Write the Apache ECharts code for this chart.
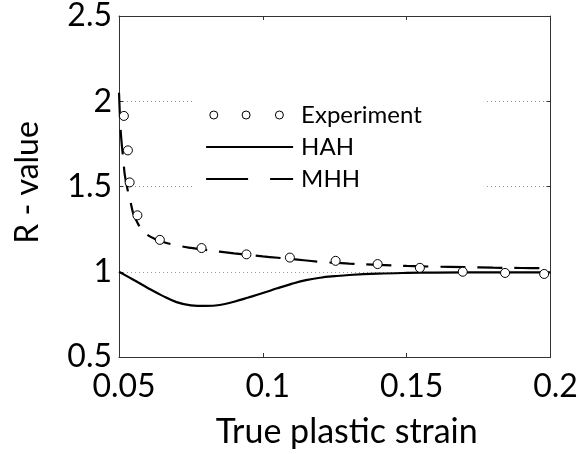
<!DOCTYPE html>
<html><head><meta charset="utf-8">
<script src="https://cdn.jsdelivr.net/npm/echarts@6/dist/echarts.min.js"></script>
<style>html,body{margin:0;padding:0;background:#fff}#c{width:582px;height:454px}</style>
</head><body><div id="c"></div>
<script>
// Experiment (markers)
const expStrain = [0.0517, 0.0531, 0.0537, 0.0564, 0.0642, 0.0787, 0.0943, 0.1094, 0.1253, 0.1399, 0.1546, 0.1695, 0.1842, 0.1978];
const expR      = [1.914, 1.712, 1.524, 1.331, 1.187, 1.139, 1.102, 1.083, 1.064, 1.045, 1.023, 1.000, 0.993, 0.987];
// HAH (solid)
const hahStrain = [0.05, 0.055, 0.06, 0.065, 0.07, 0.075, 0.08, 0.085, 0.09, 0.095, 0.1, 0.105, 0.11, 0.115, 0.12, 0.125, 0.13, 0.14, 0.15, 0.16, 0.18, 0.2];
const hahR      = [1.0, 0.953, 0.905, 0.86, 0.822, 0.803, 0.800, 0.805, 0.824, 0.849, 0.875, 0.903, 0.929, 0.951, 0.965, 0.974, 0.981, 0.989, 0.993, 0.995, 0.996, 0.996];
// MHH (dashed)
const mhhStrain = [0.05, 0.0505, 0.051, 0.0515, 0.052, 0.053, 0.054, 0.055, 0.0565, 0.058, 0.06, 0.0625, 0.065, 0.07, 0.075, 0.08, 0.09, 0.1, 0.11, 0.12, 0.13, 0.14, 0.15, 0.16, 0.17, 0.18, 0.19, 0.2];
const mhhR      = [2.05, 1.85, 1.74, 1.66, 1.57, 1.48, 1.41, 1.34, 1.285, 1.245, 1.215, 1.192, 1.176, 1.155, 1.14, 1.128, 1.108, 1.09, 1.075, 1.058, 1.048, 1.04, 1.034, 1.03, 1.027, 1.024, 1.022, 1.02];
// Axes
const xMin = 0.05, xMax = 0.2, xStep = 0.05;
const yMin = 0.5, yMax = 2.5, yStep = 0.5;
const seriesNames = ['Experiment', 'HAH', 'MHH'];
const xTitle = 'True plastic strain';
const yTitle = 'R - value';

const zip = (a, b) => a.map((v, i) => [v, b[i]]);
const FONT = 'Lato';
const chart = echarts.init(document.getElementById('c'), null, {renderer: 'canvas'});

const circlesIcon = 'path://M0 0M87 9' +
  'M3.7 4.5a4 4 0 1 0 8 0a4 4 0 1 0 -8 0Z' +
  'M36 4.5a4 4 0 1 0 8 0a4 4 0 1 0 -8 0Z' +
  'M69.3 4.5a4 4 0 1 0 8 0a4 4 0 1 0 -8 0Z';

const axisCommon = {
  axisLine: {show: true, lineStyle: {color: '#333', width: 1}},
  axisTick: {show: true, inside: true, length: 4, lineStyle: {color: '#333'}},
};
const hiddenSym = {color: 'rgba(0,0,0,0)', borderColor: 'rgba(0,0,0,0)', borderWidth: 0, opacity: 0};

chart.setOption({
  animation: false,
  backgroundColor: '#fff',
  grid: {left: 119, right: 31.5, top: 15, bottom: 92.3, containLabel: false},
  legend: {
    orient: 'vertical', left: 192, top: 97,
    backgroundColor: '#fff',
    padding: [6, 62, 8, 13],
    itemWidth: 87, itemHeight: 9, itemGap: 8,
    textStyle: {fontFamily: FONT, fontSize: 24, color: '#000', padding: [0, 0, 0, 3]},
    data: [
      {name: seriesNames[0], icon: circlesIcon, itemStyle: {color: '#fff', borderColor: '#000', borderWidth: 1}},
      {name: seriesNames[1], itemStyle: hiddenSym, lineStyle: {color: '#000', width: 2.2}},
      {name: seriesNames[2], itemStyle: hiddenSym, lineStyle: {type: [42, 22], width: 2.2, color: '#000'}}
    ]
  },
  xAxis: [
    Object.assign({
      type: 'value', min: xMin, max: xMax, interval: xStep, position: 'bottom',
      name: xTitle, nameLocation: 'middle', nameGap: 58,
      nameTextStyle: {fontFamily: FONT, fontSize: 34, color: '#000', padding: [0, 0, 0, 24]},
      axisLabel: {fontFamily: FONT, fontSize: 32, color: '#000', margin: 14, padding: [0, 0, 0, 10]},
      splitLine: {show: false}
    }, axisCommon),
    Object.assign({
      type: 'value', min: xMin, max: xMax, interval: xStep, position: 'top',
      axisLabel: {show: false}, splitLine: {show: false}
    }, axisCommon)
  ],
  yAxis: [
    Object.assign({
      type: 'value', min: yMin, max: yMax, interval: yStep, position: 'left',
      name: yTitle, nameLocation: 'middle', nameGap: 75, nameRotate: 90,
      nameTextStyle: {fontFamily: FONT, fontSize: 32, color: '#000', padding: [0, 0, 0, 8]},
      axisLabel: {fontFamily: FONT, fontSize: 32, color: '#000', margin: 7, padding: [8, 0, 0, 0]},
      splitLine: {show: true, lineStyle: {color: '#999', type: [1, 3], width: 1}}
    }, axisCommon),
    Object.assign({
      type: 'value', min: yMin, max: yMax, interval: yStep, position: 'right',
      axisLabel: {show: false}, splitLine: {show: false}
    }, axisCommon)
  ],
  series: [
    {
      name: seriesNames[1], type: 'line', data: zip(hahStrain, hahR),
      smooth: 0.4, symbol: 'none', showSymbol: false, lineStyle: {color: '#000', width: 2.2, type: 'solid'},
      itemStyle: {color: '#000'}, z: 3
    },
    {
      name: seriesNames[2], type: 'line', data: zip(mhhStrain, mhhR),
      smooth: 0.4, symbol: 'none', showSymbol: false, lineStyle: {color: '#000', width: 2.2, type: [25, 12]},
      itemStyle: {color: '#000'}, z: 3
    },
    {
      name: seriesNames[0], type: 'scatter', data: zip(expStrain, expR),
      symbol: 'circle', symbolSize: 9,
      itemStyle: {color: '#fff', borderColor: '#000', borderWidth: 1, opacity: 1}, z: 5
    }
  ]
});
</script></body></html>
